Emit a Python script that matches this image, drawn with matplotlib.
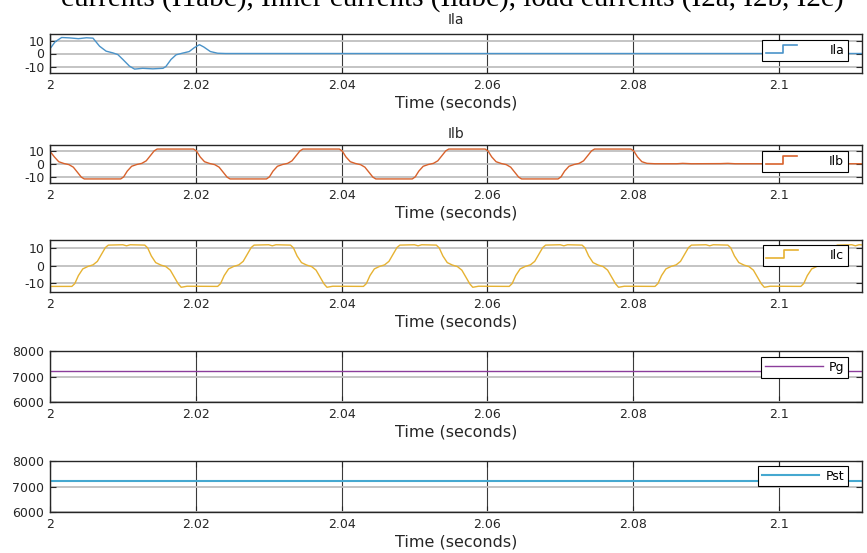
import numpy as np
import matplotlib
matplotlib.use('Agg')
from matplotlib import pyplot as plt
from matplotlib.legend_handler import HandlerBase
from matplotlib.lines import Line2D

plt.rcParams['font.family'] = ['DejaVu Sans']
plt.rcParams['axes.unicode_minus'] = False

# time axis in ms after t = 2 s
t_ila = [0.0, 0.7, 1.6, 2.7, 3.9, 5.0, 5.9, 6.8, 7.7, 8.6, 9.3, 10.0, 10.9, 11.6,
         12.7, 14.1, 15.5, 15.9, 16.6, 17.3, 18.2, 19.1, 19.8, 20.5, 21.1, 22.0,
         23.0, 24.1, 111.4]
ila = [3.6, 9.0, 12.3, 12.0, 11.4, 12.1, 11.8, 5.6, 1.8, 0.5, -0.8, -4.6, -9.7, -12.0,
       -11.4, -11.8, -11.4, -10.0, -4.6, -1.0, 0.3, 1.5, 4.5, 6.8, 5.0, 1.5,
       0.2, 0.0, 0.0]

t_ilb = [0.0, 0.6, 1.2, 1.9, 2.6, 3.2, 3.8, 4.3, 4.7,
         9.7, 10.1, 10.6, 11.2, 11.9, 12.6, 13.2, 13.8, 14.3, 14.7,
         19.7, 20.1, 20.6, 21.2, 21.9, 22.6, 23.2, 23.8, 24.3, 24.7,
         29.7, 30.1, 30.6, 31.2, 31.9, 32.6, 33.2, 33.8, 34.3, 34.7,
         39.7, 40.1, 40.6, 41.2, 41.9, 42.6, 43.2, 43.8, 44.3, 44.7,
         49.7, 50.1, 50.6, 51.2, 51.9, 52.6, 53.2, 53.8, 54.3, 54.7,
         59.7, 60.1, 60.6, 61.2, 61.9, 62.6, 63.2, 63.8, 64.3, 64.7,
         69.7, 70.1, 70.6, 71.2, 71.9, 72.6, 73.2, 73.8, 74.3, 74.7,
         79.7, 80.1, 80.6, 81.2, 81.9, 83.0, 86.0, 86.8, 88.0, 92.0, 93.0, 94.0, 111.4]
ilb = [10.0, 5.6, 1.8, 0.4, -0.5, -2.5, -6.8, -10.4, -11.8,
       -11.8, -10.2, -5.6, -1.8, -0.4, 0.5, 2.5, 6.8, 10.4, 11.8,
       11.8, 10.2, 5.6, 1.8, 0.4, -0.5, -2.5, -6.8, -10.4, -11.8,
       -11.8, -10.2, -5.6, -1.8, -0.4, 0.5, 2.5, 6.8, 10.4, 11.8,
       11.8, 10.2, 5.6, 1.8, 0.4, -0.5, -2.5, -6.8, -10.4, -11.8,
       -11.8, -10.2, -5.6, -1.8, -0.4, 0.5, 2.5, 6.8, 10.4, 11.8,
       11.8, 10.2, 5.6, 1.8, 0.4, -0.5, -2.5, -6.8, -10.4, -11.8,
       -11.8, -10.2, -5.6, -1.8, -0.4, 0.5, 2.5, 6.8, 10.4, 11.8,
       11.8, 10.2, 5.6, 1.8, 0.5, 0.2, 0.2, 0.5, 0.2, 0.3, 0.5, 0.2, 0.2]

t_ilc = [0.0, 3.0, 3.4, 3.9, 4.5, 5.2, 5.9, 6.5, 7.1, 7.6,
         8.0, 10.0, 10.5, 11.0, 13.0, 13.4, 13.9, 14.5, 15.2, 15.9, 16.5, 17.1, 17.6,
         18.0, 18.8, 23.0, 23.4, 23.9, 24.5, 25.2, 25.9, 26.5, 27.1, 27.6,
         28.0, 30.0, 30.5, 31.0, 33.0, 33.4, 33.9, 34.5, 35.2, 35.9, 36.5, 37.1, 37.6,
         38.0, 38.8, 43.0, 43.4, 43.9, 44.5, 45.2, 45.9, 46.5, 47.1, 47.6,
         48.0, 50.0, 50.5, 51.0, 53.0, 53.4, 53.9, 54.5, 55.2, 55.9, 56.5, 57.1, 57.6,
         58.0, 58.8, 63.0, 63.4, 63.9, 64.5, 65.2, 65.9, 66.5, 67.1, 67.6,
         68.0, 70.0, 70.5, 71.0, 73.0, 73.4, 73.9, 74.5, 75.2, 75.9, 76.5, 77.1, 77.6,
         78.0, 78.8, 83.0, 83.4, 83.9, 84.5, 85.2, 85.9, 86.5, 87.1, 87.6,
         88.0, 90.0, 90.5, 91.0, 93.0, 93.4, 93.9, 94.5, 95.2, 95.9, 96.5, 97.1, 97.6,
         98.0, 98.8, 103.0, 103.4, 103.9, 104.5, 105.2, 105.9, 106.5, 107.1, 107.6,
         108.0, 110.0, 110.5, 111.0, 111.4]
ilc = [-11.8, -11.8, -10.2, -5.6, -1.8, -0.4, 0.5, 2.5, 6.8, 10.4,
       11.8, 12.0, 11.4, 12.0, 11.8, 10.2, 5.6, 1.8, 0.4, -0.5, -2.5, -6.8, -10.4,
       -12.3, -11.7, -11.8, -10.2, -5.6, -1.8, -0.4, 0.5, 2.5, 6.8, 10.4,
       11.8, 12.0, 11.4, 12.0, 11.8, 10.2, 5.6, 1.8, 0.4, -0.5, -2.5, -6.8, -10.4,
       -12.3, -11.7, -11.8, -10.2, -5.6, -1.8, -0.4, 0.5, 2.5, 6.8, 10.4,
       11.8, 12.0, 11.4, 12.0, 11.8, 10.2, 5.6, 1.8, 0.4, -0.5, -2.5, -6.8, -10.4,
       -12.3, -11.7, -11.8, -10.2, -5.6, -1.8, -0.4, 0.5, 2.5, 6.8, 10.4,
       11.8, 12.0, 11.4, 12.0, 11.8, 10.2, 5.6, 1.8, 0.4, -0.5, -2.5, -6.8, -10.4,
       -12.3, -11.7, -11.8, -10.2, -5.6, -1.8, -0.4, 0.5, 2.5, 6.8, 10.4,
       11.8, 12.0, 11.4, 12.0, 11.8, 10.2, 5.6, 1.8, 0.4, -0.5, -2.5, -6.8, -10.4,
       -12.3, -11.7, -11.8, -10.2, -5.6, -1.8, -0.4, 0.5, 2.5, 6.8, 10.4,
       11.8, 12.0, 11.4, 12.0, 11.9]

t_pow = [0.0, 111.4]
pg = [7200, 7200]
pst = [7200, 7200]

xticks = [2.0, 2.02, 2.04, 2.06, 2.08, 2.1]
xticklabels = ['2', '2.02', '2.04', '2.06', '2.08', '2.1']
cur_ticks = [-10, 0, 10]
pow_ticks = [6000, 7000, 8000]

suptitle = 'currents (I1abc), Inner currents (Ilabc), load currents (I2a, I2b, I2c)'


class StepHandler(HandlerBase):
    # MATLAB style stairs sample in the legend
    def create_artists(self, legend, orig_handle, xdescent, ydescent,
                       width, height, fontsize, trans):
        x0 = -xdescent
        w = width * 0.55
        y0 = -ydescent + height * 0.05
        y1 = -ydescent + height * 0.95
        ln = Line2D([x0, x0 + 0.55 * w, x0 + 0.55 * w, x0 + w],
                    [y0, y0, y1, y1], color=orig_handle.get_color(), lw=1.2)
        ln.set_transform(trans)
        return [ln]


fig = plt.figure(figsize=(8.67, 5.53), dpi=100)
W, H = 867.0, 553.0

# (top, bottom) of each panel in pixels
boxes = [(34, 73), (145, 183), (239.5, 292), (351, 402), (461, 512)]
series = [
    (t_ila, ila, '#4a93c9', 1.0, 'Ila', 'Ila', 7, True, (-15, 15), cur_ticks, 0.846),
    (t_ilb, ilb, '#d8622c', 1.0, 'Ilb', 'Ilb', 5, True, (-15, 15), cur_ticks, 0.842),
    (t_ilc, ilc, '#e6b232', 1.0, 'Ilc', None, 0, True, (-15, 15), cur_ticks, 0.895),
    (t_pow, pg, '#8b3d9b', 1.0, 'Pg', None, 0, False, (6000, 8000), pow_ticks, 0.882),
    (t_pow, pst, '#45a8d0', 1.5, 'Pst', None, 0, False, (6000, 8000), pow_ticks, 0.902),
]

left, right = 50, 862
for (top, bot), (tm, vals, col, lw, lab, ttl, tpad, step, ylim, yt, legy) in zip(boxes, series):
    ax = fig.add_axes([left / W, 1 - bot / H, (right - left) / W, (bot - top) / H])
    t = 2.0 + np.array(tm) / 1000.0
    line, = ax.plot(t, vals, color=col, lw=lw, label=lab)
    ax.set_xlim(2.0, 2.1114)
    ax.set_ylim(*ylim)
    ax.set_xticks(xticks)
    ax.set_xticklabels(xticklabels)
    ax.set_yticks(yt)
    ax.grid(axis='x', color='#3a3a3a', lw=0.8)
    ax.grid(axis='y', color='#bfbfbf', lw=1.3)
    ax.set_axisbelow(True)
    ax.tick_params(direction='in', top=True, right=True, length=4, width=0.8,
                   labelsize=9, colors='#262626', pad=4)
    for sp in ax.spines.values():
        sp.set_linewidth(1.0)
        sp.set_color('#262626')
    ax.set_xlabel('Time (seconds)', fontsize=11.5, color='#262626', labelpad=3)
    if ttl:
        ax.set_title(ttl, fontsize=10, color='#262626', pad=tpad)
    hmap = {line: StepHandler()} if step else None
    leg = ax.legend(handles=[line], loc='upper right',
                    bbox_to_anchor=((848 - left) / (right - left), legy),
                    borderaxespad=0, fontsize=9, handlelength=4.6, handletextpad=0.5,
                    borderpad=0.3, fancybox=False, framealpha=1, edgecolor='black',
                    handler_map=hmap)
    leg.get_frame().set_linewidth(0.8)

fig.text(452 / W, 1 - 6 / H, suptitle, ha='center', va='baseline',
         family='Liberation Serif', fontsize=21, color='black')

fig.savefig('out.png', dpi=100)
